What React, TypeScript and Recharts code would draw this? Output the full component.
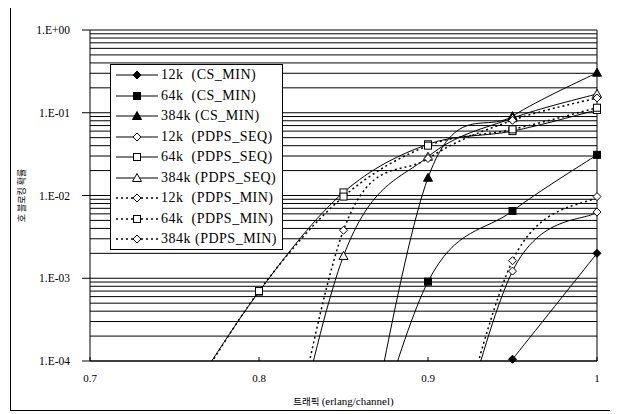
import { CartesianGrid, Legend, Line, LineChart, ReferenceLine, XAxis, YAxis } from "recharts"

// traffic load (erlang/channel)
const traffic = [0.75, 0.8, 0.85, 0.9, 0.95, 1]

// call blocking probability per scheme (values below 1E-04 run off the bottom of the plot)
const cs12 = [null, null, null, null, 1.05e-4, 2.0e-3]
const cs64 = [null, null, 6.6e-7, 9.1e-4, 6.5e-3, 3.1e-2]
const cs384 = [null, null, 2.5e-7, 1.64e-2, 9.1e-2, 3.05e-1]
const seq12 = [null, null, null, 4.5e-7, 1.22e-3, 6.3e-3]
const seq64 = [2.0e-5, 6.9e-4, 1.09e-2, 4.16e-2, 6.0e-2, 1.08e-1]
const seq384 = [null, 1.2e-7, 1.86e-3, 2.94e-2, 8.6e-2, 1.69e-1]
const min12 = [null, null, null, 5.0e-7, 1.63e-3, 9.7e-3]
const min64 = [1.8e-5, 7.0e-4, 9.7e-3, 4.0e-2, 6.3e-2, 1.15e-1]
const min384 = [null, 9.0e-8, 3.8e-3, 2.8e-2, 8.1e-2, 1.51e-1]

const xTicks = [0.7, 0.8, 0.9, 1]
const majorTicks = [1e-4, 1e-3, 1e-2, 1e-1, 1]
const majorLabels = ["1.E-04", "1.E-03", "1.E-02", "1.E-01", "1.E+00"]
const minorSteps = [1, 2, 3, 4, 5, 6, 7, 8, 9]
const gridTicks = majorTicks
	.slice(0, 4)
	.flatMap((m) => minorSteps.map((k) => k * m))
	.concat([1])

const series = [
	{ key: "cs12", name: "12k  (CS_MIN)", values: cs12, marker: "diamond", filled: true, dotted: false },
	{ key: "cs64", name: "64k  (CS_MIN)", values: cs64, marker: "square", filled: true, dotted: false },
	{ key: "cs384", name: "384k (CS_MIN)", values: cs384, marker: "triangle", filled: true, dotted: false },
	{ key: "seq12", name: "12k  (PDPS_SEQ)", values: seq12, marker: "diamond", filled: false, dotted: false },
	{ key: "seq64", name: "64k  (PDPS_SEQ)", values: seq64, marker: "square", filled: false, dotted: false },
	{ key: "seq384", name: "384k (PDPS_SEQ)", values: seq384, marker: "triangle", filled: false, dotted: false },
	{ key: "min12", name: "12k  (PDPS_MIN)", values: min12, marker: "diamond", filled: false, dotted: true },
	{ key: "min64", name: "64k  (PDPS_MIN)", values: min64, marker: "square", filled: false, dotted: true },
	{ key: "min384", name: "384k (PDPS_MIN)", values: min384, marker: "diamond", filled: false, dotted: true },
]

const rows = traffic.map((t, i) => {
	const row: Record<string, number | null> = { traffic: t }
	series.forEach((s) => (row[s.key] = s.values[i]))
	return row
})

const SERIF = "Liberation Serif, DejaVu Serif, Noto Serif, Times New Roman, serif"
const KR = "Noto Sans CJK KR, sans-serif"

// Excel-like smoothed line (Catmull-Rom drawn as cubic Beziers)
function excelSmooth(context: any) {
	let pts: number[][] = []
	return {
		areaStart() {},
		areaEnd() {},
		lineStart() {
			pts = []
		},
		point(x: number, y: number) {
			pts.push([+x, +y])
		},
		lineEnd() {
			const n = pts.length
			if (!n) return
			context.moveTo(pts[0][0], pts[0][1])
			for (let i = 0; i < n - 1; i++) {
				const p0 = pts[Math.max(i - 1, 0)]
				const p1 = pts[i]
				const p2 = pts[i + 1]
				const p3 = pts[Math.min(i + 2, n - 1)]
				context.bezierCurveTo(
					p1[0] + (p2[0] - p0[0]) / 6,
					p1[1] + (p2[1] - p0[1]) / 6,
					p2[0] - (p3[0] - p1[0]) / 6,
					p2[1] - (p3[1] - p1[1]) / 6,
					p2[0],
					p2[1]
				)
			}
		},
	}
}

function MarkerShape({ cx, cy, kind, filled }: { cx: number; cy: number; kind: string; filled: boolean }) {
	const fill = filled ? "#000" : "#fff"
	if (kind === "square") {
		return <rect x={cx - 3.5} y={cy - 3.5} width={7} height={7} fill={fill} stroke="#000" strokeWidth={1} />
	}
	if (kind === "triangle") {
		return (
			<polygon
				points={`${cx},${cy - 4.5} ${cx + 4.5},${cy + 3.5} ${cx - 4.5},${cy + 3.5}`}
				fill={fill}
				stroke="#000"
				strokeWidth={1}
			/>
		)
	}
	return (
		<polygon
			points={`${cx},${cy - 4} ${cx + 4},${cy} ${cx},${cy + 4} ${cx - 4},${cy}`}
			fill={fill}
			stroke="#000"
			strokeWidth={1}
		/>
	)
}

function YTick(props: any) {
	const { x, y, payload } = props
	const idx = majorTicks.findIndex((m) => Math.abs(m - payload.value) < m * 1e-6)
	if (idx < 0) return <g />
	return (
		<g>
			<line x1={x - 8} x2={x} y1={y} y2={y} stroke="#000" />
			<text x={x - 20} y={y} dy="0.35em" textAnchor="end" fontSize={11.5} style={{ fontFamily: SERIF }} fill="#000">
				{majorLabels[idx]}
			</text>
		</g>
	)
}

function LegendBox() {
	return (
		<div
			style={{
				boxSizing: "border-box",
				width: 173,
				height: 186,
				background: "#fff",
				border: "1px solid #000",
				fontFamily: SERIF,
				fontSize: 14,
				color: "#000",
			}}
		>
			{series.map((s) => (
				<div key={s.key} style={{ display: "flex", alignItems: "center", height: 20.5 }}>
					<svg width={50} height={14} style={{ display: "block" }}>
						<line
							x1={5}
							x2={47}
							y1={7}
							y2={7}
							stroke="#000"
							strokeWidth={s.dotted ? 1.5 : 1}
							strokeDasharray={s.dotted ? "2 3" : undefined}
						/>
						<MarkerShape cx={26} cy={7} kind={s.marker} filled={s.filled} />
					</svg>
					<span style={{ whiteSpace: "pre", letterSpacing: 0.5, lineHeight: "14px", fontFamily: SERIF }}>
						{s.name}
					</span>
				</div>
			))}
		</div>
	)
}

export default function App() {
	return (
		<div style={{ position: "relative", width: 618, height: 414, margin: "-8px 0 0 -8px", background: "#fff" }}>
			<div
				style={{
					position: "absolute",
					left: 10,
					top: 5,
					width: 604,
					height: 406,
					border: "1px solid #000",
					boxSizing: "border-box",
				}}
			/>
			<LineChart width={618} height={414} data={rows} margin={{ top: 30, right: 21, bottom: 3, left: 0 }}>
				<CartesianGrid horizontal vertical={false} stroke="#000" strokeWidth={1} />
				<XAxis
					dataKey="traffic"
					type="number"
					domain={[0.7, 1]}
					ticks={xTicks}
					height={50}
					tickSize={-4}
					tickMargin={17}
					axisLine={{ stroke: "#000" }}
					tickLine={{ stroke: "#000" }}
					tick={{ fontSize: 11, fill: "#000", style: { fontFamily: SERIF } }}
					label={{
						content: (p: any) => {
							const vb = p.viewBox
							return (
								<text x={vb.x + vb.width / 2} y={405} textAnchor="middle" fill="#000">
									<tspan style={{ fontFamily: KR }} fontSize={9.5}>
										트래픽{" "}
									</tspan>
									<tspan style={{ fontFamily: SERIF }} fontSize={11}>
										(erlang/channel)
									</tspan>
								</text>
							)
						},
					}}
				/>
				<YAxis
					scale="log"
					domain={[1e-4, 1]}
					allowDataOverflow
					ticks={gridTicks}
					interval={0}
					width={90}
					tickSize={0}
					tickMargin={0}
					tickLine={false}
					axisLine={{ stroke: "#000" }}
					tick={YTick}
					label={{
						content: (p: any) => {
							const vb = p.viewBox
							const cx = vb.x + 22
							const cy = vb.y + vb.height / 2
							return (
								<text
									x={cx}
									y={cy}
									dy="0.35em"
									transform={`rotate(-90 ${cx} ${cy})`}
									textAnchor="middle"
									style={{ fontFamily: KR }}
									fontSize={9}
									fill="#000"
								>
									호 블로킹 확률
								</text>
							)
						},
					}}
				/>
				<YAxis yAxisId="m" hide scale="log" domain={[1e-4, 1]} />
				<ReferenceLine x={1} stroke="#000" />
				{series.map((s) => (
					<Line
						key={s.key}
						dataKey={s.key}
						type={excelSmooth as any}
						stroke="#000"
						strokeWidth={s.dotted ? 1.5 : 1}
						strokeDasharray={s.dotted ? "2 3" : undefined}
						dot={false}
						activeDot={false}
						legendType="none"
						isAnimationActive={false}
					/>
				))}
				{series.map((s) => (
					<Line
						key={s.key + "-marks"}
						yAxisId="m"
						dataKey={(d: any) => (d[s.key] != null && d[s.key] >= 1e-4 ? d[s.key] : null)}
						stroke="none"
						dot={(p: any) =>
							p.cx == null || p.cy == null ? (
								<g key={p.key ?? p.index} />
							) : (
								<MarkerShape key={p.key ?? p.index} cx={p.cx} cy={p.cy} kind={s.marker} filled={s.filled} />
							)
						}
						activeDot={false}
						legendType="none"
						isAnimationActive={false}
					/>
				))}
				<Legend
					layout="vertical"
					align="center"
					verticalAlign="middle"
					wrapperStyle={{ left: 110, top: 64, width: 173, height: 186 }}
					content={() => <LegendBox />}
				/>
			</LineChart>
		</div>
	)
}
